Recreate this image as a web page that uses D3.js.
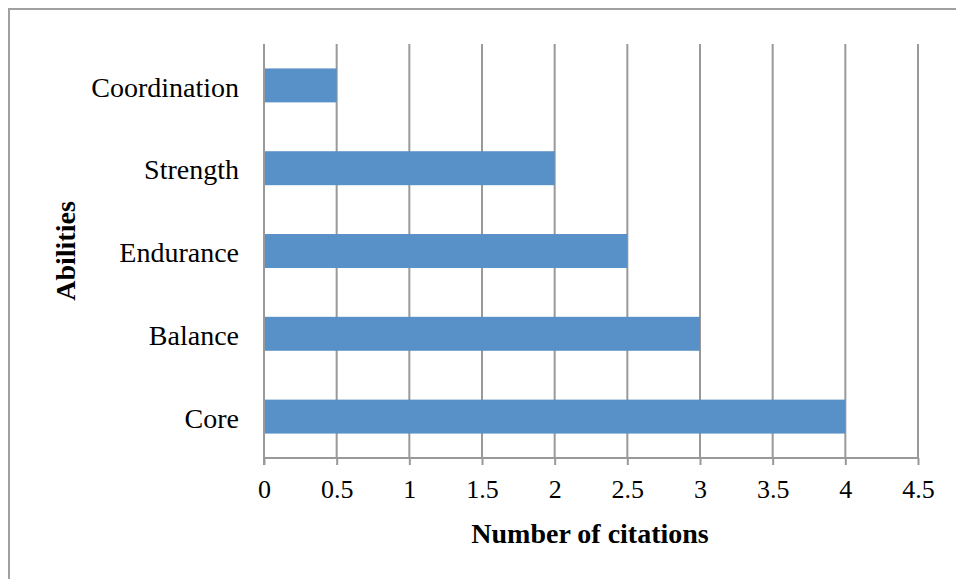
<!DOCTYPE html>
<html><head><meta charset="utf-8">
<script src="https://cdn.jsdelivr.net/npm/d3@7"></script>
<style>body{margin:0;background:#fff}svg{display:block}</style>
</head><body>
<svg id="c" width="956" height="579"></svg>
<script>
const categories = ["Coordination","Strength","Endurance","Balance","Core"];
const values = [0.5, 2, 2.5, 3, 4];
const xTicks = [0,0.5,1,1.5,2,2.5,3,3.5,4,4.5];
const xTitle = "Number of citations";
const yTitle = "Abilities";

(function(){
const svg = d3.select("#c");
const font = "'Liberation Serif', serif";
const pL = 264, pR = 918, pT = 44, pB = 458;
const x = d3.scaleLinear().domain([0,4.5]).range([pL,pR]);
const y = d3.scaleBand().domain(categories).range([pT,pB]).paddingInner(0.59).paddingOuter(0.295);

svg.append("rect").attr("x",9).attr("y",9).attr("width",960).attr("height",600)
  .attr("fill","none").attr("stroke","#a0a0a0").attr("stroke-width",2);

svg.append("g").selectAll("line").data(xTicks.slice(1)).join("line")
  .attr("x1",d=>x(d)).attr("x2",d=>x(d)).attr("y1",pT).attr("y2",pB)
  .attr("stroke","#999").attr("stroke-width",2);

svg.append("g").selectAll("rect").data(categories).join("rect")
  .attr("x",x(0)).attr("y",d=>y(d)).attr("height",y.bandwidth())
  .attr("width",(d,i)=>x(values[i])-x(0)).attr("fill","#5890c8");

const xa = svg.append("g").attr("transform",`translate(0,${pB})`)
  .call(d3.axisBottom(x).tickValues(xTicks).tickFormat(d3.format("")).tickSize(7).tickPadding(15));
xa.select(".domain").attr("stroke","#999").attr("stroke-width",2).attr("d",`M${pL},0H${pR}`);
xa.selectAll(".tick line").attr("stroke","#999").attr("stroke-width",2);
xa.selectAll("text").attr("font-family",font).attr("font-size",26).attr("fill","#000");

const ya = svg.append("g").attr("transform",`translate(${pL},0)`)
  .call(d3.axisLeft(y).tickSize(0).tickPadding(25));
ya.select(".domain").attr("stroke","#999").attr("stroke-width",2).attr("d",`M0,${pT}V${pB+7}`);
ya.selectAll("text").attr("font-family",font).attr("font-size",28).attr("fill","#000").attr("dy","0.4em");

svg.append("text").attr("x",590).attr("y",543).attr("text-anchor","middle")
  .attr("font-family",font).attr("font-weight","bold").attr("font-size",28).text(xTitle);
svg.append("text").attr("transform","translate(75,251) rotate(-90)").attr("text-anchor","middle")
  .attr("font-family",font).attr("font-weight","bold").attr("font-size",28).text(yTitle);
})();
</script>
</body></html>
